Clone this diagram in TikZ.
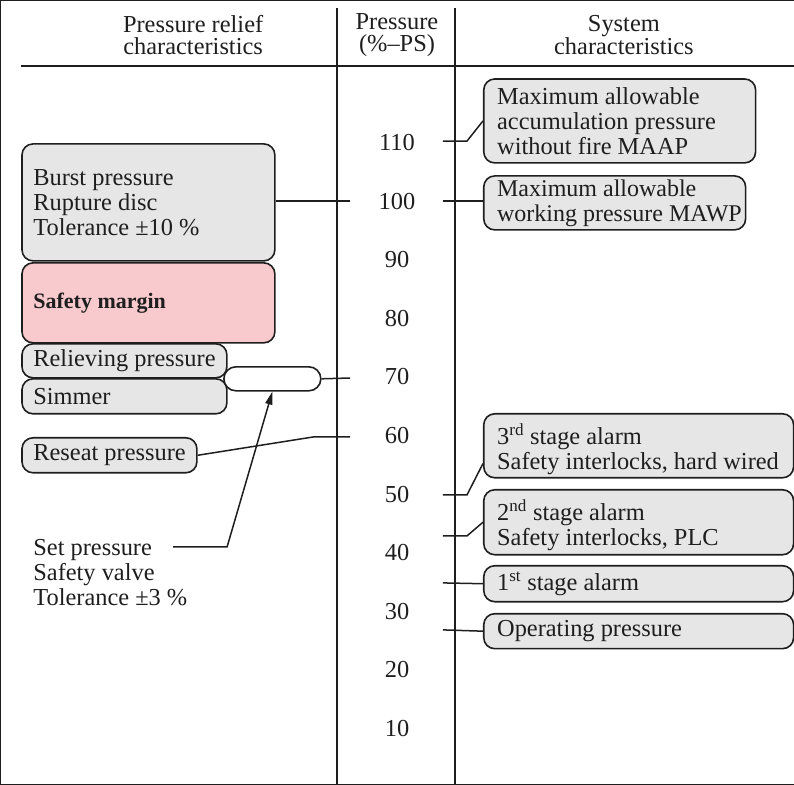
\documentclass[tikz,border=0pt]{standalone}
\usepackage{fontspec}
\setmainfont{Liberation Serif}
\usetikzlibrary{arrows.meta}
\definecolor{boxgray}{RGB}{230,230,230}
\definecolor{boxpink}{RGB}{248,201,205}
\definecolor{ink}{RGB}{30,30,30}
\begin{document}
\begin{tikzpicture}[x=1pt,y=-1pt,
  font=\fontsize{24.4}{25}\selectfont,
  every path/.style={draw=ink},
  rule/.style={draw=ink, line width=1.5pt},
  conn/.style={draw=ink, line width=1.5pt},
  box/.style={draw=ink, line width=1.6pt, fill=boxgray, rounded corners=11pt, inner sep=0pt, anchor=north west},
  txt/.style={inner sep=0pt, anchor=west, align=left, text=ink},
  hdr/.style={inner sep=0pt, align=center, text=ink, font=\fontsize{24.4}{22}\selectfont},
  num/.style={inner sep=0pt, text=ink}
]
\useasboundingbox (0,0) rectangle (794,784);

% frame lines
\draw[rule] (337,8) -- (337,784);
\draw[rule] (455,8) -- (455,784);
\draw[rule] (21,66) -- (794,66);

% headers
\node[hdr] (h1) at (193,35) {Pressure relief\\characteristics};
\node[hdr] (h2) at (397,35) {Pressure\\(\%--PS)};
\node[hdr] (h3) at (624,35) {System\\characteristics};

% scale numbers
\foreach \v in {110,100,90,80,70,60,50,40,30,20,10} {
  \node[num] (n\v) at (397,{201+(100-\v)*5.862}) {\v};
}

% left boxes
\node[box, minimum width=253pt, minimum height=117pt] (burst) at (21,143) {};
\node[txt] (bursttxt) at ([xshift=12pt]burst.west) {Burst pressure\\Rupture disc\\Tolerance ±10 \%};
\node[box, fill=boxpink, minimum width=253pt, minimum height=80pt] (safety) at (21,262) {};
\node[txt, font=\fontsize{22}{24}\selectfont\bfseries] (safetytxt) at ([xshift=12pt]safety.west) {Safety margin};
\node[box, minimum width=205pt, minimum height=34pt] (reliev) at (21,343) {};
\node[txt] (relievtxt) at ([xshift=12pt]reliev.west) {Relieving pressure};
\node[box, minimum width=205pt, minimum height=35pt] (simmer) at (21,378) {};
\node[txt] (simmertxt) at ([xshift=12pt]simmer.west) {Simmer};
\node[box, fill=white, rounded corners=12pt, minimum width=97pt, minimum height=24pt] (pill) at (223,366) {};
\node[box, minimum width=175pt, minimum height=35pt] (reseat) at (21,437) {};
\node[txt] (reseattxt) at ([xshift=12pt]reseat.west) {Reseat pressure};
\node[txt, anchor=north west] (settxt) at (33,539) {Set pressure\\Safety valve\\Tolerance ±3 \%};

% right boxes
\node[box, minimum width=272pt, minimum height=84pt] (maap) at (483,78) {};
\node[txt] (maaptxt) at ([xshift=14pt]maap.west) {Maximum allowable\\accumulation pressure\\without fire MAAP};
\node[box, minimum width=262pt, minimum height=54pt] (mawp) at (483,175) {};
\node[txt, font=\fontsize{24}{25}\selectfont] (mawptxt) at ([xshift=14pt]mawp.west) {Maximum allowable\\working pressure MAWP};
\node[box, minimum width=310pt, minimum height=64pt] (s3) at (483,413) {};
\node[txt] (s3txt) at ([xshift=14pt,yshift=-3pt]s3.west) {3\textsuperscript{rd} stage alarm\\Safety interlocks, hard wired};
\node[box, minimum width=310pt, minimum height=65pt] (s2) at (483,489) {};
\node[txt] (s2txt) at ([xshift=14pt,yshift=-3pt]s2.west) {2\textsuperscript{nd} stage alarm\\Safety interlocks, PLC};
\node[box, minimum width=310pt, minimum height=36pt] (s1) at (483,565) {};
\node[txt] (s1txt) at ([xshift=14pt]s1.west) {1\textsuperscript{st} stage alarm};
\node[box, minimum width=310pt, minimum height=35pt] (op) at (483,613) {};
\node[txt] (optxt) at ([xshift=14pt]op.west) {Operating pressure};

% connector end points
\coordinate (e100L) at (350,201);
\coordinate (e70L) at (350,378);
\coordinate (e60L) at (350,437);
\coordinate (k60) at (313,437);
\coordinate (setA) at (173,547);
\coordinate (setB) at (227,547);
\coordinate (e110R) at (443,141);
\coordinate (k110) at (467,141);
\coordinate (e100R) at (443,201);
\coordinate (e50R) at (443,495);
\coordinate (k50) at (467,495);
\coordinate (e45R) at (443,536);
\coordinate (k45) at (467,536);
\coordinate (e35R) at (443,583);
\coordinate (e30R) at (443,630);

% connectors left
\draw[conn] (burst.east |- e100L) -- (e100L);
\draw[conn] (pill.east) -- (e70L);
\draw[conn] (reseat.east) -- (k60) -- (e60L);
\draw[conn, -{Triangle[length=13pt,width=7pt]}] (setA) -- (setB) -- (pill.south);

% connectors right
\draw[conn] (e110R) -- (k110) -- (maap.west);
\draw[conn] (e100R) -- (mawp.west |- e100R);
\draw[conn] (e50R) -- (k50) -- ([yshift=15pt]s3.south west);
\draw[conn] (e45R) -- (k45) -- (s2.west);
\draw[conn] (e35R) -- (s1.west);
\draw[conn] (e30R) -- (op.west);
\end{tikzpicture}
\end{document}
